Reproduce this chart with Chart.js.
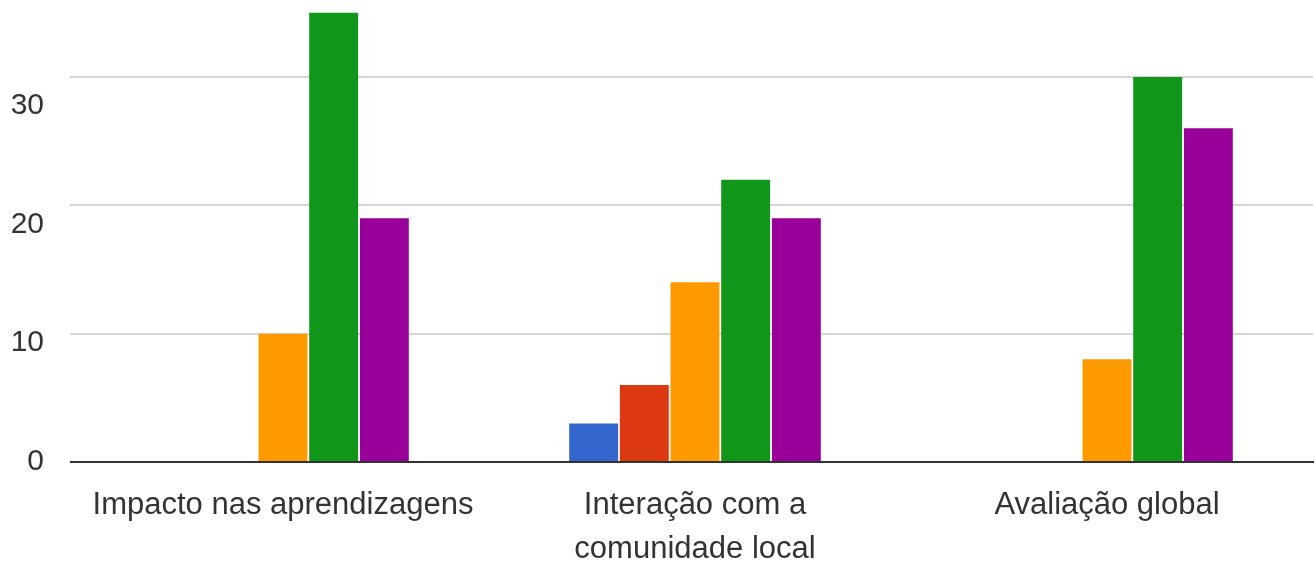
<!DOCTYPE html>
<html>
<head>
<meta charset="utf-8">
<script src="https://cdn.jsdelivr.net/npm/chart.js@4/dist/chart.umd.min.js"></script>
<style>
  html, body { margin: 0; padding: 0; background: #fff; }
</style>
</head>
<body>
<canvas id="surveyChart" width="1316" height="563"></canvas>
<script>
// Categories on the x axis (second one wraps over two lines)
const categories = [
    'Impacto nas aprendizagens',
    ['Interação com a', 'comunidade local'],
    'Avaliação global'
];

// Answer counts per rating, one array per series
const rating1 = [0, 3, 0];
const rating2 = [0, 6, 0];
const rating3 = [10, 14, 8];
const rating4 = [35, 22, 30];
const rating5 = [19, 19, 26];

const seriesNames = ['1', '2', '3', '4', '5'];
const seriesColors = ['#3366cc', '#dc3912', '#ff9900', '#109618', '#990099'];

// Y tick labels shown at the left
const yTicks = [0, 10, 20, 30];

const textColor = '#333';
const font = 'Arial, "Liberation Sans", sans-serif';

const ctx = document.getElementById('surveyChart').getContext('2d');

const myChart = new Chart(ctx, {
    type: 'bar',
    data: {
        labels: categories,
        datasets: [rating1, rating2, rating3, rating4, rating5].map((values, i) => ({
            label: seriesNames[i],
            data: values,
            backgroundColor: seriesColors[i],
            borderWidth: 0,
            categoryPercentage: 0.615,
            barPercentage: 0.965
        }))
    },
    options: {
        responsive: false,
        devicePixelRatio: 1,
        animation: false,
        layout: { padding: { top: 0, right: 3, bottom: 0, left: 0 } },
        plugins: {
            legend: { display: false },
            tooltip: { enabled: false }
        },
        scales: {
            x: {
                z: 1,
                grid: { display: false },
                border: { display: true, color: '#333', width: 2 },
                ticks: {
                    color: textColor,
                    padding: 13,
                    maxRotation: 0,
                    autoSkip: false,
                    font: { family: font, size: 31, lineHeight: 1.42 }
                },
                afterFit: s => {
                    s.height = 101;
                    s.paddingLeft = 0;
                    s.paddingRight = 0;
                }
            },
            // axis that carries the bars and grid lines
            y: {
                weight: 0,
                min: 0,
                max: 36,
                border: { display: false },
                grid: {
                    color: c => c.tick && c.tick.value === 0 ? '#333' : '#d6d6d6',
                    tickColor: c => c.tick && c.tick.value === 0 ? '#333' : '#d6d6d6',
                    lineWidth: 2,
                    drawTicks: true,
                    tickLength: 7
                },
                ticks: { display: false, stepSize: 10, includeBounds: false },
                afterFit: s => {
                    s.width = 0;
                    s.paddingTop = 0;
                    s.paddingBottom = 0;
                }
            },
            // axis that only carries the tick labels
            yLabels: {
                type: 'linear',
                position: 'left',
                weight: 1,
                min: 0,
                max: 38.9,
                grid: { display: false },
                border: { display: false },
                afterBuildTicks: s => {
                    s.ticks = yTicks.map(v => ({ value: v }));
                },
                ticks: {
                    color: textColor,
                    padding: 25,
                    font: { family: font, size: 30 }
                },
                afterFit: s => {
                    s.width = 77;
                    s.paddingTop = 0;
                    s.paddingBottom = 0;
                }
            }
        }
    }
});
</script>
</body>
</html>
